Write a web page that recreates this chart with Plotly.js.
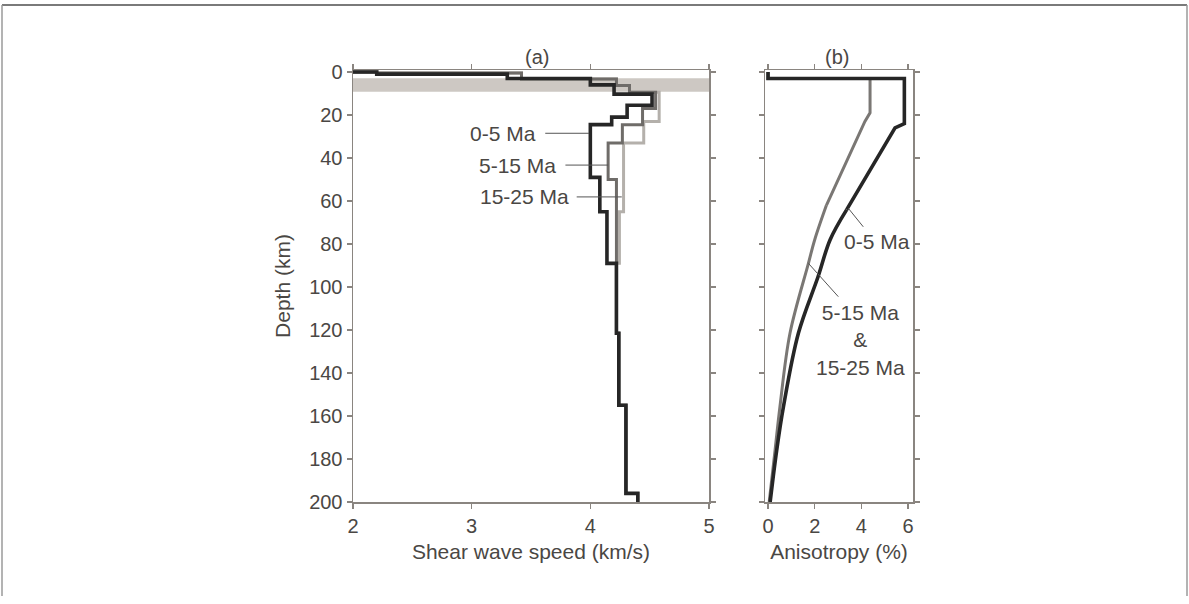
<!DOCTYPE html>
<html>
<head>
<meta charset="utf-8">
<script src="https://cdn.plot.ly/plotly-3.0.1.min.js"></script>
<style>html,body{margin:0;padding:0;background:#fff;}#chart{width:1189px;height:604px;}</style>
</head>
<body>
<div id="chart"></div>
<script>
// ---- Panel (a): shear wave speed step profiles (layer top depth, km ; speed, km/s)
const depthTop_0_5 = [0, 0, 1, 3, 6, 10.3, 15.5, 21, 24.5, 49, 65, 89, 121.5, 155, 196, 200];
const speed_0_5    = [2.0, 2.2, 3.3, 4.0, 4.2, 4.52, 4.31, 4.18, 4.0, 4.08, 4.14, 4.22, 4.24, 4.30, 4.40, 4.40];

const depthTop_5_15 = [0, 0, 0.5, 3.3, 6.3, 9.4, 17, 24.5, 33, 50, 89, 121.5, 155, 196, 200];
const speed_5_15    = [2.0, 2.2, 3.42, 4.22, 4.33, 4.55, 4.44, 4.27, 4.15, 4.22, 4.22, 4.24, 4.30, 4.40, 4.40];

const depthTop_15_25 = [0, 0, 0.5, 3.3, 6.3, 9.4, 23, 33, 65, 89, 121.5, 155, 196, 200];
const speed_15_25    = [2.0, 2.2, 3.42, 4.22, 4.33, 4.58, 4.45, 4.28, 4.245, 4.22, 4.24, 4.30, 4.40, 4.40];

// shaded band (depth range, km)
const bandDepth = [2.9, 9.2];

// ---- Panel (b): anisotropy profiles (depth km ; anisotropy %)
// upper (straight-segment) part
const anisDepthTop_0_5 = [0, 3, 3, 24, 26, 64];
const anisTop_0_5      = [0, 0, 5.84, 5.84, 5.44, 3.37];
// lower (curved) part
const anisDepthLow_0_5 = [64, 78, 95, 121.5, 155.7, 176, 200];
const anisLow_0_5      = [3.37, 2.66, 2.15, 1.30, 0.66, 0.37, 0.09];

const anisDepthTop_old = [0, 3, 3, 19, 23, 62];
const anisTop_old      = [0, 0, 4.37, 4.37, 4.15, 2.5];
const anisDepthLow_old = [62, 78, 89, 121.5, 155.7, 176, 200];
const anisLow_old      = [2.5, 2.0, 1.73, 0.94, 0.51, 0.30, 0.05];

// ---- ticks
const depthTicks = [0, 20, 40, 60, 80, 100, 120, 140, 160, 180, 200];
const speedTicks = [2, 3, 4, 5];
const anisTicks  = [0, 2, 4, 6];

const W = 1189, H = 604;
const fx = v => v / W;
const fy = v => 1 - v / H;

const TXT = '#4a4744';
const AX = '#8a8580';
const FONT = 'Liberation Sans, Arial, Helvetica, sans-serif';

const BLACK = '#262626', DGRAY = '#6f6c69', LGRAY = '#b4b0ab', BGRAY = '#7a7774';

const traces = [
  {x: speed_15_25, y: depthTop_15_25, xaxis: 'x', yaxis: 'y', mode: 'lines',
   line: {shape: 'vh', color: LGRAY, width: 3}, hoverinfo: 'skip'},
  {x: speed_5_15, y: depthTop_5_15, xaxis: 'x', yaxis: 'y', mode: 'lines',
   line: {shape: 'vh', color: DGRAY, width: 3}, hoverinfo: 'skip'},
  {x: speed_0_5, y: depthTop_0_5, xaxis: 'x', yaxis: 'y', mode: 'lines',
   line: {shape: 'vh', color: BLACK, width: 3.6}, hoverinfo: 'skip'},
  {x: anisTop_old, y: anisDepthTop_old, xaxis: 'x2', yaxis: 'y2', mode: 'lines',
   line: {color: BGRAY, width: 3}, hoverinfo: 'skip'},
  {x: anisLow_old, y: anisDepthLow_old, xaxis: 'x2', yaxis: 'y2', mode: 'lines',
   line: {color: BGRAY, width: 3, shape: 'spline', smoothing: 1}, hoverinfo: 'skip'},
  {x: anisTop_0_5, y: anisDepthTop_0_5, xaxis: 'x2', yaxis: 'y2', mode: 'lines',
   line: {color: BLACK, width: 3.6}, hoverinfo: 'skip'},
  {x: anisLow_0_5, y: anisDepthLow_0_5, xaxis: 'x2', yaxis: 'y2', mode: 'lines',
   line: {color: BLACK, width: 3.6, shape: 'spline', smoothing: 1}, hoverinfo: 'skip'}
];

const axBase = {
  showline: true, linecolor: AX, linewidth: 1.5, mirror: 'ticks',
  ticks: 'outside', ticklen: 5, tickwidth: 1.2, tickcolor: AX,
  showgrid: false, zeroline: false, fixedrange: true,
  tickfont: {family: FONT, size: 20, color: TXT}
};

const yRange = [200, -0.93];

const layout = {
  width: W, height: H,
  margin: {l: 0, r: 0, t: 0, b: 0},
  paper_bgcolor: '#ffffff', plot_bgcolor: 'rgba(0,0,0,0)',
  showlegend: false,
  font: {family: FONT, size: 20, color: TXT},
  xaxis: Object.assign({}, axBase, {
    domain: [fx(353), fx(709)], range: [2, 5], tickvals: speedTicks, anchor: 'y',
    title: {text: 'Shear wave speed (km/s)', font: {family: FONT, size: 21, color: TXT}, standoff: 9}
  }),
  yaxis: Object.assign({}, axBase, {
    domain: [fy(502), fy(70)], range: yRange, tickvals: depthTicks, anchor: 'x',
    title: {text: 'Depth (km)', font: {family: FONT, size: 21, color: TXT}, standoff: 13}
  }),
  xaxis2: Object.assign({}, axBase, {
    domain: [fx(765), fx(913)], range: [-0.13, 6.21], tickvals: anisTicks, anchor: 'y2',
    title: {text: 'Anisotropy (%)', font: {family: FONT, size: 21, color: TXT}, standoff: 9}
  }),
  yaxis2: Object.assign({}, axBase, {
    domain: [fy(502), fy(70)], range: yRange, tickvals: depthTicks, anchor: 'x2',
    showticklabels: false
  }),
  shapes: [
    {type: 'rect', xref: 'x', yref: 'y', x0: 2, x1: 5, y0: bandDepth[0], y1: bandDepth[1],
     fillcolor: '#cdc8c3', line: {width: 0}, layer: 'below'},
    // leader lines panel (a)
    {type: 'line', xref: 'x', yref: 'y', x0: 3.62, x1: 3.99, y0: 28.5, y1: 28.5, line: {color: '#555', width: 1}},
    {type: 'line', xref: 'x', yref: 'y', x0: 3.79, x1: 4.15, y0: 43.3, y1: 43.3, line: {color: '#555', width: 1}},
    {type: 'line', xref: 'x', yref: 'y', x0: 3.885, x1: 4.265, y0: 58.1, y1: 58.1, line: {color: '#555', width: 1}},
    // leader lines panel (b)
    {type: 'line', xref: 'x2', yref: 'y2', x0: 3.44, x1: 4.08, y0: 63.4, y1: 72.0, line: {color: '#555', width: 1}},
    {type: 'line', xref: 'x2', yref: 'y2', x0: 1.73, x1: 3.01, y0: 89, y1: 104.5, line: {color: '#555', width: 1}},
    // figure frame
    {type: 'line', xref: 'paper', yref: 'paper', x0: fx(2), x1: fx(1187), y0: fy(5), y1: fy(5), line: {color: '#7a7a7a', width: 2}},
    {type: 'line', xref: 'paper', yref: 'paper', x0: fx(2), x1: fx(2), y0: fy(5), y1: fy(596), line: {color: '#9a9a9a', width: 1.5}},
    {type: 'line', xref: 'paper', yref: 'paper', x0: fx(1187), x1: fx(1187), y0: fy(5), y1: fy(596), line: {color: '#9a9a9a', width: 1.5}}
  ],
  annotations: [
    {text: '(a)', xref: 'paper', yref: 'paper', x: fx(537), y: fy(57), showarrow: false,
     font: {family: FONT, size: 20, color: TXT}, xanchor: 'center', yanchor: 'middle'},
    {text: '(b)', xref: 'paper', yref: 'paper', x: fx(837), y: fy(57), showarrow: false,
     font: {family: FONT, size: 20, color: TXT}, xanchor: 'center', yanchor: 'middle'},
    {text: '0-5 Ma', xref: 'x', yref: 'y', x: 3.56, y: 28.5, showarrow: false, xanchor: 'right', yanchor: 'middle',
     font: {family: FONT, size: 21, color: TXT}},
    {text: '5-15 Ma', xref: 'x', yref: 'y', x: 3.73, y: 43.3, showarrow: false, xanchor: 'right', yanchor: 'middle',
     font: {family: FONT, size: 21, color: TXT}},
    {text: '15-25 Ma', xref: 'x', yref: 'y', x: 3.84, y: 58.1, showarrow: false, xanchor: 'right', yanchor: 'middle',
     font: {family: FONT, size: 21, color: TXT}},
    {text: '0-5 Ma', xref: 'x2', yref: 'y2', x: 6.18, y: 78.9, showarrow: false, xanchor: 'right', yanchor: 'middle',
     font: {family: FONT, size: 21, color: TXT}},
    {text: '5-15 Ma<br>&<br>15-25 Ma', xref: 'x2', yref: 'y2', x: 3.94, y: 124.5, showarrow: false,
     xanchor: 'center', yanchor: 'middle', align: 'center',
     font: {family: FONT, size: 21, color: TXT}}
  ]
};

Plotly.newPlot('chart', traces, layout, {staticPlot: true, displayModeBar: false});
</script>
</body>
</html>
